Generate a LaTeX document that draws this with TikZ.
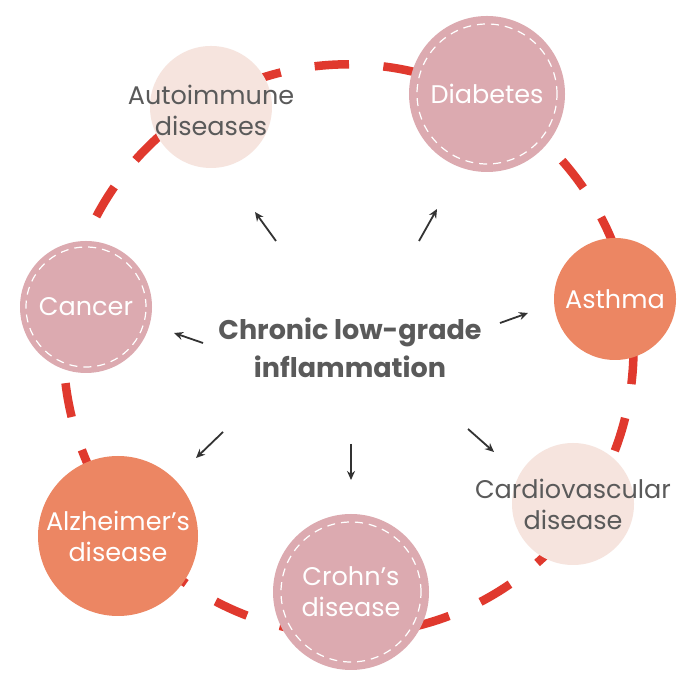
\documentclass[tikz,border=0pt]{standalone}
\usepackage{fontspec}
\setmainfont{Poppins}
\definecolor{ringred}{HTML}{E0392E}
\definecolor{pinkc}{HTML}{DCAAB0}
\definecolor{orangec}{HTML}{EC8663}
\definecolor{lightc}{HTML}{F6E4DE}
\definecolor{txtgray}{HTML}{5A5A5A}
\definecolor{arrgray}{HTML}{333333}
\tikzset{
  disc/.style={circle, minimum size=#1, inner sep=0pt},
  pinkdisc/.style={disc=#1, fill=pinkc},
  orangedisc/.style={disc=#1, fill=orangec},
  lightdisc/.style={disc=#1, fill=lightc},
  stitch/.style={draw=white, line width=1.2pt, dash pattern=on 8pt off 6pt},
  lab/.style={font=\fontsize{25.5}{31}\selectfont, align=center, text=white},
  darklab/.style={font=\fontsize{25.5}{31}\selectfont, align=center, text=txtgray},
  ringdash/.style={draw=ringred, line width=8.5pt},
  outarrow/.style={draw=arrgray, line width=1.8pt, -{Stealth[length=9pt,width=8pt]}}
}
\usetikzlibrary{arrows.meta}
\begin{document}
\begin{tikzpicture}[x=1pt,y=1pt]
\useasboundingbox (0,0) rectangle (700,700);
\fill[white] (0,0) rectangle (700,700);
\coordinate (rc) at (348.5,350.7);
% dashed ring
\foreach \k in {0,...,25}{
  \pgfmathsetmacro{\a}{89.9+\k*13.846}
  \draw[ringdash] ([shift={(\a:285)}]rc) arc[start angle=\a, delta angle=6.92, radius=285];
}
% discs
\node[lightdisc=122] (auto) at (211,593) {};
\node[pinkdisc=156] (diab) at (487,606) {};
\node[orangedisc=122] (asth) at (615,401) {};
\node[lightdisc=122] (card) at (573,196) {};
\node[pinkdisc=156] (crohn) at (351,108) {};
\node[orangedisc=160] (alz) at (118,164) {};
\node[pinkdisc=132] (canc) at (86,393) {};
% stitched inner rings
\draw[stitch] (diab) circle[radius=70];
\draw[stitch] (crohn) circle[radius=70];
\draw[stitch] (canc) circle[radius=60];
% labels
\node[darklab] (autolab) at (211,590) {Autoimmune\\diseases};
\node[lab] (diablab) at (487,606) {Diabetes};
\node[lab] (asthlab) at (615,401) {Asthma};
\node[darklab] (cardlab) at (573,196) {Cardiovascular\\disease};
\node[lab] (crohnlab) at (351,108) {Crohn’s\\disease};
\node[lab] (alzlab) at (118,164) {Alzheimer’s\\disease};
\node[lab] (canclab) at (86,393) {Cancer};
% centre
\node[font=\fontsize{27}{38}\selectfont\bfseries, text=txtgray, align=center] (center) at (350,352) {Chronic low-grade\\inflammation};
% arrows
\coordinate (a1s) at (276,459); \coordinate (a1e) at (255,488);
\coordinate (a2s) at (419,459); \coordinate (a2e) at (437,491);
\coordinate (a3s) at (500,377); \coordinate (a3e) at (528,387);
\coordinate (a4s) at (203,357); \coordinate (a4e) at (174,367);
\coordinate (a5s) at (223,268); \coordinate (a5e) at (196,242);
\coordinate (a6s) at (351,256); \coordinate (a6e) at (351,220);
\coordinate (a7s) at (468,271); \coordinate (a7e) at (494,248);
\foreach \i in {1,...,7}{ \draw[outarrow] (a\i s) -- (a\i e); }
\end{tikzpicture}
\end{document}
